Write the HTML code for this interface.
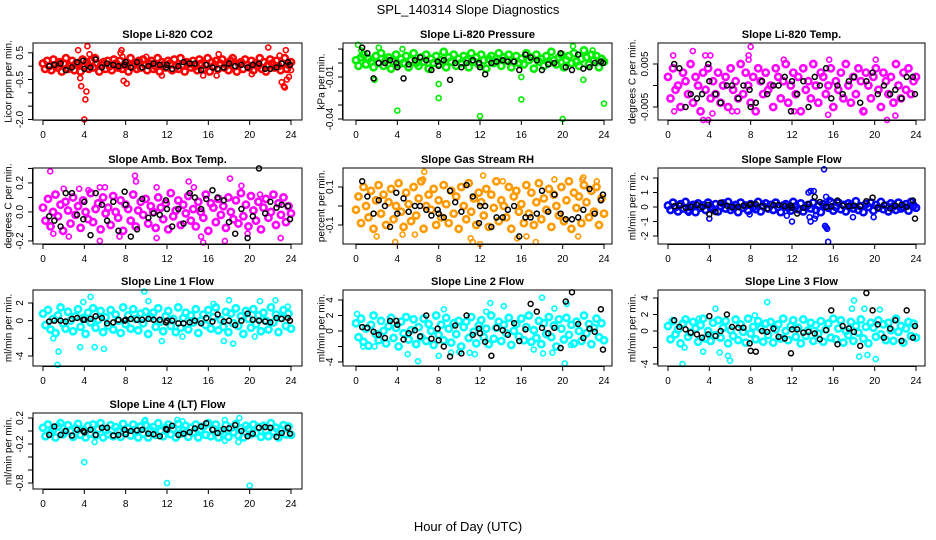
<!DOCTYPE html>
<html><head><meta charset="utf-8"><style>
html,body{margin:0;padding:0;background:#fff;}
svg{display:block;font-family:"Liberation Sans",Arial,sans-serif;}
</style></head><body>
<svg id="chart" width="936" height="540" viewBox="0 0 936 540">
<text x="468" y="14" text-anchor="middle" font-size="13">SPL_140314  Slope Diagnostics</text>
<text x="468" y="531" text-anchor="middle" font-size="13">Hour of Day (UTC)</text>
</svg>
<script>
const xTicks = [0,4,8,12,16,20,24];
const blackHours = [0.6,1.1,1.7,2.2,2.8,3.3,3.9,4.0,4.6,5.1,5.7,6.2,6.8,7.3,7.9,8.0,8.5,9.1,9.6,10.2,10.7,11.3,11.9,12.0,12.5,13.1,13.6,14.2,14.7,15.3,15.8,16.4,16.9,17.5,18.0,18.6,19.2,19.8,20.3,20.9,21.5,22.0,22.6,23.1,23.7,23.9];

const p1Band = [0.1,-0.1,0.2,0.0,-0.15,0.25,0.05,-0.05,0.15,-0.2,0.1,0.3,-0.1,0.0,0.2,-0.15,0.1,0.05,-0.2,0.25,0.0,0.15,-0.1,0.2,-0.05,0.3,0.1,-0.2,0.05,0.15,-0.1,0.2,0.0,-0.15,0.25,0.1,-0.05,0.2,-0.1,0.05,0.15,-0.2,0.3,0.0,0.1,-0.1,0.2,-0.05,0.25,0.05,-0.15,0.1,0.2,-0.1,0.0,0.3,-0.2,0.15,0.05,-0.05,0.2,0.1,-0.15,0.25,0.0,-0.1,0.3,0.05,-0.2,0.15,0.1,-0.05,0.2,0.0,-0.15,0.25,0.1,-0.1,0.05,0.3,-0.2,0.15,0.0,0.2,-0.1,0.1,0.25,-0.05,0.05,-0.15,0.2,0.3,0.0,-0.2,0.1,0.15,-0.1,0.25,0.05,-0.05,0.2,-0.15,0.1,0.0,0.3,-0.1,0.15,-0.2,0.05,0.25,0.1,-0.05,0.2,0.0,-0.15,0.1,0.3,-0.1,0.05,0.15];
const p1ExtraHours = [3.4,3.6,3.7,4.0,4.1,4.2,4.3,4.5,7.5,7.6,7.8,8.1,7.7,10,11.5,15.5,16.8,17,20.2,21.8,22.9,23.1,23.3,23.4,23.5,23.6,23.8,24];
const p1ExtraVals = [0.6,-0.45,-0.75,-2.0,-1.25,-0.95,0.75,0.45,0.5,0.6,-0.55,-0.65,0.35,0.35,-0.35,-0.35,-0.35,0.45,-0.3,0.7,0.4,-0.6,-0.75,-0.8,0.6,-0.5,-0.4,-0.15];
const p1Black = [0.0,0.05,0.1,-0.15,-0.05,0.15,0.2,-0.1,-0.05,0.25,-0.05,0.1,0.05,0.0,0.05,0.15,-0.05,0.15,-0.05,0.0,0.1,0.05,-0.05,0.05,-0.1,0.0,0.15,0.1,0.1,-0.15,0.05,-0.05,-0.1,-0.05,0.1,0.0,0.05,-0.05,0.05,0.1,-0.1,-0.1,-0.05,0.1,0.15,0.05];

const p2Band = [0.002,-0.002,0.004,0.006,-0.001,0.003,0.001,-0.003,0.005,0.0,0.007,-0.002,0.002,0.004,-0.004,0.001,0.006,-0.001,0.003,0.0,0.005,-0.003,0.002,0.007,0.0,-0.002,0.004,0.001,0.006,-0.004,0.003,0.0,0.005,-0.001,0.002,0.008,-0.003,0.004,0.001,0.006,-0.002,0.003,0.0,0.005,0.002,-0.003,0.007,0.001,0.004,-0.001,0.006,0.002,-0.004,0.003,0.005,0.0,0.001,0.007,-0.002,0.004,0.002,0.006,-0.003,0.001,0.005,0.0,0.003,-0.001,0.007,0.002,0.004,-0.004,0.006,0.001,0.003,-0.002,0.005,0.0,0.008,0.002,-0.001,0.004,0.006,-0.003,0.002,0.005,0.0,0.007,0.001,-0.002,0.003,0.009,0.004,-0.001,0.006,0.002,0.005,-0.003,0.003,0.001];
const p2ExtraHours = [0.2,0.5,2.2,1.8,4,4.5,8,8.0,12,16,16,20,21,22,24,22.9];
const p2ExtraVals = [0.013,0.009,0.011,-0.012,-0.034,0.01,-0.015,-0.025,-0.038,-0.026,-0.01,-0.040,0.012,-0.012,-0.029,0.009];
const p2Black = [0.011,0.007,-0.011,0.0,0.0,0.002,0.0,-0.003,-0.011,-0.001,0.002,0.004,0.002,-0.005,0.001,-0.002,0.002,-0.012,0.0,-0.003,0.0,0.002,0.0,-0.003,-0.008,0.0,0.001,0.002,0.001,0.001,-0.005,0.006,0.004,0.002,-0.005,-0.001,0.0,0.007,-0.003,-0.005,0.006,-0.004,-0.003,0.0,0.001,0.0];

const p3Band = [0.002,-0.003,0.004,-0.001,0.0,-0.005,0.003,0.001,-0.002,0.005,-0.004,0.002,0.0,-0.006,0.003,-0.001,0.004,-0.003,0.001,-0.002,0.003,-0.004,0.0,0.002,-0.005,0.004,-0.001,0.001,-0.003,0.005,-0.002,0.003,0.0,-0.004,0.002,-0.006,0.004,0.001,-0.002,0.003,-0.001,0.0,-0.005,0.004,0.002,-0.003,0.001,0.005,-0.004,0.0,0.003,-0.002,0.002,-0.006,0.004,-0.001,0.001,-0.003,0.005,0.0,-0.004,0.003,0.002,-0.002,0.0,0.004,-0.005,0.001,-0.001,0.003,-0.003,0.005,0.0,-0.004,0.002,-0.002,0.004,0.001,-0.006,0.003,0.0,-0.003,0.002,0.004,-0.001,-0.005,0.003,0.001,-0.002,0.002,-0.004,0.005,0.0,-0.003,0.003,-0.001,0.004,-0.002,0.001,0.002];
const p3ExtraHours = [0.5,2.4,3.6,4.1,3.4,3.9,4.3,7.8,7.8,8.0,11.2,15.6,20.1,21.2,0.6,6.7,12.2,19.0,22,15.5,6.2];
const p3ExtraVals = [0.007,0.008,0.007,0.007,-0.008,-0.008,-0.0065,0.006,0.007,0.009,0.006,0.006,0.006,-0.008,-0.006,-0.006,-0.006,-0.006,-0.007,-0.0068,-0.006];
const p3Black = [0.005,0.004,-0.005,-0.002,-0.003,-0.002,0.005,0.001,-0.002,-0.004,0.0,0.0,-0.003,0.0,-0.001,-0.005,-0.004,0.001,-0.002,0.0,0.0,0.002,-0.006,0.001,-0.002,0.001,-0.005,0.002,0.0,0.004,-0.003,0.0,-0.002,0.001,0.002,-0.004,0.001,0.003,-0.002,0.0,-0.002,-0.001,-0.003,0.002,0.002,-0.002];

const p4Band = [0.03,-0.06,0.09,-0.1,0.0,0.12,-0.03,0.05,-0.13,0.07,0.01,-0.08,0.1,-0.02,0.04,-0.11,0.08,0.0,-0.05,0.13,-0.07,0.02,0.06,-0.12,0.1,-0.01,0.03,-0.09,0.11,0.0,-0.04,0.08,-0.13,0.05,0.02,-0.06,0.12,-0.1,0.01,0.07,-0.02,0.09,-0.08,0.04,0.0,-0.11,0.1,0.03,-0.05,0.06,-0.12,0.13,-0.03,0.01,0.08,-0.09,0.05,-0.01,0.11,-0.06,0.02,-0.1,0.07,0.0,-0.04,0.12,-0.13,0.06,0.03,-0.07,0.09,-0.02,0.04,-0.11,0.1,0.0,-0.05,0.08,-0.08,0.13,-0.03,0.05,-0.1,0.11,0.01,-0.06,0.07,-0.12,0.03,0.09,-0.04,0.0,0.12,-0.09,0.06,-0.02,0.1,-0.07,0.04,-0.01];
const p4ExtraHours = [0.7,1.0,2.0,2.5,3.5,4.4,5.5,5.5,6.0,7.4,8.9,9.0,11.0,11.0,14.1,14.6,15.3,15.5,17.6,18.1,19.2,19.8,23.0,21];
const p4ExtraVals = [0.28,-0.15,0.16,-0.17,0.16,0.15,0.17,-0.2,0.17,-0.17,0.25,0.21,-0.18,0.17,0.21,0.17,-0.17,-0.21,-0.2,0.23,0.18,-0.15,-0.18,0.12];
const p4Black = [-0.03,-0.06,-0.1,0.13,0.13,-0.02,-0.05,0.07,-0.16,0.13,0.05,-0.06,0.07,-0.13,0.14,0.05,-0.17,-0.12,0.09,-0.04,-0.01,-0.02,0.08,0.02,-0.1,0.02,-0.08,0.13,0.1,0.02,0.09,0.15,0.1,0.08,-0.07,-0.15,0.02,-0.18,-0.03,0.3,-0.01,0.07,0.03,0.05,0.04,-0.05];

const p5Band = [-0.02,0.05,-0.09,0.1,0.0,-0.06,0.08,-0.12,0.03,0.11,-0.04,0.06,-0.1,0.02,0.09,-0.07,0.0,0.12,-0.03,-0.11,0.07,0.01,-0.08,0.1,-0.05,0.04,0.13,-0.12,0.0,0.06,-0.02,0.09,-0.1,0.03,-0.06,0.11,0.01,-0.09,0.08,-0.04,0.05,-0.12,0.1,0.0,-0.07,0.12,-0.03,0.04,-0.1,0.07,0.02,-0.05,0.09,-0.11,0.06,-0.01,0.13,-0.08,0.03,0.0,-0.06,0.1,-0.12,0.05,0.08,-0.03,0.01,-0.09,0.11,-0.04,0.07,-0.1,0.02,0.12,-0.07,0.04,-0.02,0.09,-0.11,0.06,0.0,-0.05,0.1,-0.08,0.03,0.13,-0.12,0.07,-0.01,0.05,-0.09,0.11,0.02,-0.06,0.08,-0.03,0.1,-0.1,0.04,-0.04];
const p5ExtraHours = [2.0,3.8,4.5,6.5,6.6,11.1,11.3,12.3,14.2,15.6,16.5,17.4,19.2,21.5,22.0,21.9,23.3,12.0,5.7];
const p5ExtraVals = [-0.16,-0.19,-0.15,0.14,0.18,-0.17,-0.19,0.16,0.13,-0.17,-0.16,-0.19,0.14,-0.16,0.15,0.14,0.13,-0.2,-0.15];
const p5Black = [0.13,0.05,-0.04,0.03,0.0,-0.11,0.07,-0.04,0.04,-0.03,0.0,0.0,-0.02,-0.05,-0.02,-0.04,-0.06,0.08,0.02,-0.03,0.11,0.05,-0.09,0.0,0.0,-0.11,-0.06,-0.06,-0.02,0.0,-0.16,-0.06,-0.06,-0.04,0.08,-0.03,0.06,-0.04,-0.07,-0.07,-0.06,-0.02,0.09,-0.04,0.03,0.06];

const p6Band = [0.1,-0.2,0.3,0.0,-0.3,0.2,-0.1,0.35,-0.25,0.05,0.15,-0.35,0.25,-0.05,0.1,-0.2,0.3,0.0,-0.15,0.2,-0.3,0.05,0.25,-0.1,0.35,-0.2,0.0,0.15,-0.35,0.3,-0.05,0.1,-0.25,0.2,0.0,-0.15,0.35,-0.3,0.05,0.25,-0.1,0.15,-0.2,0.3,0.0,-0.35,0.1,0.2,-0.05,-0.25,0.35,0.05,-0.15,0.25,-0.3,0.0,0.15,-0.1,0.3,-0.2,0.1,-0.35,0.2,0.05,-0.05,0.35,-0.25,0.0,0.3,-0.15,0.15,-0.3,0.25,0.1,-0.1,0.4,-0.2,0.05,-0.35,0.2,0.0,0.3,-0.25,0.15,-0.05,0.35,-0.15,0.1,-0.3,0.25,0.05,-0.2,0.3,-0.1,0.0,0.2,-0.25,0.35,0.1,-0.05];
const p6ExtraHours = [13.6,13.8,14.1,13.7,13.8,14.2,14.3,15.1,15.2,15.3,15.4,15.5,15.3,15.6,4.0,11.5,12.0,19.9,17.9,2.0,7.9];
const p6ExtraVals = [1.0,1.1,1.1,-0.7,-1.0,-0.8,-0.6,2.6,-1.3,-1.4,-1.5,-2.4,0.7,0.5,-0.8,-0.6,-1.0,-0.7,-0.7,-0.4,-0.5];
const p6Black = [0.05,0.1,-0.05,0.0,0.15,0.0,0.15,-0.5,-0.35,0.3,0.1,0.0,0.0,0.1,0.15,0.2,0.2,0.05,-0.1,0.15,0.15,0.05,0.1,-0.05,-0.45,-0.05,0.2,0.7,0.35,0.0,0.05,0.45,0.1,0.05,0.1,0.05,0.4,0.65,-0.05,0.15,-0.1,0.1,0.15,0.0,0.45,-0.8];

const p7Band = [0.8,-0.5,1.2,-1.0,0.2,-1.4,0.6,1.5,-0.3,-0.9,1.0,0.0,-1.2,0.5,1.3,-0.7,0.3,-1.5,0.9,-0.2,1.4,-0.8,0.1,1.1,-1.3,0.4,-0.6,1.2,-1.0,0.7,0.0,-1.4,1.5,-0.4,0.6,-0.9,1.3,0.2,-1.1,0.8,-0.3,1.0,-1.5,0.4,0.9,-0.7,1.4,-0.1,-1.2,0.5,1.1,-0.6,0.2,-1.3,1.5,-0.8,0.3,0.9,-1.0,0.6,-0.2,1.3,-1.4,0.0,0.7,-0.5,1.2,-0.9,0.4,1.5,-1.1,0.1,-0.7,1.0,-1.3,0.8,-0.3,1.4,-0.6,0.5,-1.5,1.1,0.2,-0.8,1.3,-0.4,0.6,-1.2,0.9,0.0,-1.0,1.5,-0.2,0.7,-1.3,0.3,1.2,-0.6,0.8,-0.9];
const p7ExtraHours = [1.4,1.5,1.0,3.6,4.6,5.0,5.9,9.8,10.2,11.5,16.5,17.5,18.0,18.4,20.5,21,22.5,23.7,3.9,13.5];
const p7ExtraVals = [-5,-3.5,-2,-3,2.7,-3,-3.2,3.3,2.2,-2.3,1.9,-2.3,2.3,-2.6,-1.8,2.2,2.3,1.6,2.1,-1.8];
const p7Black = [-0.1,0.0,0.0,-0.1,0.2,0.3,0.1,0.1,0.2,0.5,0.3,-0.3,-0.2,0.1,0.0,0.1,0.2,0.1,0.1,0.2,0.1,0.1,-0.2,0.0,0.0,-0.3,-0.3,-0.2,0.0,-0.3,0.3,-0.1,0.7,-0.1,0.0,-0.5,0.0,0.8,0.1,0.0,-0.1,-0.2,0.3,0.2,0.3,0.0];

const p8Band = [1.0,-0.8,1.6,-1.4,0.3,-1.9,0.8,2.0,-0.4,-1.2,1.3,0.0,-1.6,0.6,1.7,-0.9,0.4,-2.0,1.2,-0.3,1.8,-1.1,0.1,1.5,-1.7,0.5,-0.8,1.6,-1.3,0.9,0.0,-1.8,2.0,-0.5,0.8,-1.2,1.7,0.3,-1.5,1.0,-0.4,1.3,-2.0,0.5,1.2,-0.9,1.8,-0.1,-1.6,0.7,1.4,-0.8,0.3,-1.7,2.0,-1.0,0.4,1.2,-1.3,0.8,-0.3,1.7,-1.8,0.0,0.9,-0.7,1.6,-1.2,0.5,2.0,-1.4,0.1,-0.9,1.3,-1.7,1.0,-0.4,1.8,-0.8,0.7,-2.0,1.5,0.3,-1.1,1.7,-0.5,0.8,-1.6,1.2,0.0,-1.3,2.0,-0.3,0.9,-1.7,0.4,1.6,-0.8,1.0,-1.2];
const p8ExtraHours = [0.1,0.7,1.8,5.0,6.0,8.0,9.2,10,11,11.5,13.0,14.3,17.2,18.0,18.1,19.0,19.2,20.2,20.4,20.8,12.6,8.5];
const p8ExtraVals = [2.2,-2,-2,-3,-3.9,-3.2,-2.8,-2.7,-2.8,-3,3.6,3.2,-2.4,4.3,-2.9,-2.8,2.9,-4.2,3.5,-1.8,2.5,2.8];
const p8Black = [0.5,0.4,-0.1,-0.5,-0.9,1.3,1.3,0.8,-1.1,-0.3,0.1,-0.7,2.0,-1.0,0.3,-1.2,-2.0,-3.3,0.7,-2.9,2.0,-0.5,0.3,-0.3,-1.4,-3.2,0.4,0.1,-0.5,1.0,-1.3,0.2,3.5,2.5,0.4,-0.3,0.4,-2.2,3.8,5.0,0.9,-0.9,0.3,-0.1,2.8,-2.4];

const p9Band = [0.6,-1.0,1.2,-0.4,0.2,-1.5,0.9,1.4,-0.7,-0.2,1.1,0.3,-1.3,0.7,1.5,-0.9,0.0,-1.2,1.0,-0.5,1.3,-0.8,0.4,1.2,-1.5,0.1,-0.6,1.4,-1.1,0.8,-0.1,-1.4,1.5,-0.3,0.5,-1.0,1.2,0.3,-1.3,0.9,-0.5,1.1,-1.4,0.2,0.8,-0.9,1.5,0.0,-1.1,0.6,1.3,-0.7,0.4,-1.5,1.4,-0.6,0.1,1.0,-1.2,0.7,-0.3,1.2,-1.3,0.2,0.9,-0.8,1.5,-1.0,0.3,1.3,-1.4,0.0,-0.5,1.1,-1.2,0.6,-0.2,1.4,-0.9,0.5,-1.5,1.0,0.4,-0.7,1.3,-0.4,0.8,-1.1,1.0,0.1,-1.2,1.5,-0.1,0.6,-1.4,0.3,1.1,-0.6,0.9,-0.8];
const p9ExtraHours = [1.4,1.6,3.4,4.6,5.0,5.8,6.0,9.6,18.0,18.5,19.3,20.1,20.5,3.0,8.4,17.8,19.0];
const p9ExtraVals = [-4,-2,-2.5,2.7,-2.6,-3,-3.6,3.5,3.7,-3.1,-2.9,-3.4,2.6,1.5,1.9,2.7,2.7];
const p9Black = [1.3,0.5,0.2,-0.2,-0.4,-0.8,-0.4,1.8,-0.6,0.0,2.0,0.5,0.4,0.4,-1.5,-2.4,-2.5,0.0,-0.1,0.3,-0.7,-0.9,-2.7,0.2,0.2,-0.2,-0.1,-0.3,-1.0,0.1,2.5,-1.6,0.6,0.3,-0.1,-1.8,4.6,2.5,0.8,-0.8,0.3,1.3,-1.2,2.5,-0.8,0.6];

const p10Band = [0.05,-0.08,0.1,-0.03,0.02,-0.1,0.07,0.12,-0.05,-0.01,0.09,0.0,-0.09,0.04,0.11,-0.06,0.02,-0.1,0.08,-0.04,0.1,-0.07,0.03,0.12,-0.1,0.01,-0.05,0.09,-0.08,0.06,0.0,-0.09,0.11,-0.02,0.04,-0.07,0.1,0.02,-0.1,0.07,-0.04,0.09,-0.1,0.01,0.06,-0.06,0.12,0.0,-0.08,0.05,0.1,-0.05,0.03,-0.1,0.11,-0.04,0.01,0.08,-0.09,0.05,-0.02,0.1,-0.1,0.02,0.07,-0.06,0.12,-0.08,0.03,0.1,-0.1,0.0,-0.04,0.09,-0.09,0.05,-0.02,0.11,-0.07,0.04,-0.1,0.08,0.03,-0.05,0.1,-0.03,0.06,-0.09,0.08,0.01,-0.08,0.12,-0.01,0.05,-0.1,0.02,0.09,-0.05,0.07,-0.06];
const p10ExtraHours = [4.0,12.0,20.0,5.0,13.0,13.5,17.6,17.6,19.0,18.9,9.8,9.9];
const p10ExtraVals = [-0.48,-0.8,-0.84,-0.17,0.17,0.15,0.17,-0.15,0.2,-0.17,0.15,0.17];
const p10Black = [-0.06,0.07,-0.06,0.0,-0.07,0.02,0.0,-0.02,0.02,-0.06,0.05,0.05,-0.07,-0.06,0.02,-0.05,0.0,0.01,0.02,-0.04,-0.05,-0.08,0.03,0.02,0.08,-0.06,-0.04,-0.02,0.04,0.07,0.12,0.02,-0.03,0.03,0.04,0.09,0.0,-0.08,-0.04,0.05,0.06,0.05,-0.09,-0.03,0.05,-0.04];

const p1Ticks=[0.5,0,-0.5,-1,-1.5,-2], p1Labels=["0.5","","-0.5","","","-2.0"];
const p2Ticks=[0.01,0,-0.01,-0.02,-0.03,-0.04], p2Labels=["","","-0.01","","","-0.04"];
const p3Ticks=[0.005,0,-0.005], p3Labels=["0.005","","-0.005"];
const p4Ticks=[0.3,0.2,0.1,0,-0.1,-0.2], p4Labels=["","0.2","","0.0","","-0.2"];
const p5Ticks=[0.1,0,-0.1], p5Labels=["0.1","","-0.1"];
const p6Ticks=[2,1,0,-1,-2], p6Labels=["2","1","0","-1","-2"];
const p7Ticks=[2,0,-2,-4], p7Labels=["2","0","","-4"];
const p8Ticks=[4,2,0,-2,-4], p8Labels=["4","2","0","","-4"];
const p9Ticks=[4,2,0,-2,-4], p9Labels=["4","2","0","","-4"];
const p10Ticks=[0.2,0,-0.2,-0.4,-0.6,-0.8], p10Labels=["0.2","","-0.2","","","-0.8"];

const NS="http://www.w3.org/2000/svg";
const svg=document.getElementById('chart');
const cols=[{l:33,r:302,x0:43,x1:291,yt:9},{l:343,r:612,x0:356,x1:604,yt:322},{l:658,r:925,x0:668,x1:916,yt:633}];
const rows=[{t:43,b:120},{t:168,b:244},{t:290,b:366},{t:413,b:489}];
const panels=[
 {name:"co2",title:"Slope Li-820 CO2",yt:"Licor ppm per min.",c:0,r:0,vmin:-2.02,vmax:0.87,col:"#ff0000",band:p1Band,eh:p1ExtraHours,ev:p1ExtraVals,blk:p1Black,ticks:p1Ticks,labels:p1Labels},
 {name:"pressure",title:"Slope Li-820 Pressure",yt:"kPa per min.",c:1,r:0,vmin:-0.0407,vmax:0.0143,col:"#00ee00",band:p2Band,eh:p2ExtraHours,ev:p2ExtraVals,blk:p2Black,ticks:p2Ticks,labels:p2Labels},
 {name:"temp",title:"Slope Li-820 Temp.",yt:"degrees C per min.",c:2,r:0,vmin:-0.00802,vmax:0.00988,col:"#ff00ff",band:p3Band,eh:p3ExtraHours,ev:p3ExtraVals,blk:p3Black,ticks:p3Ticks,labels:p3Labels},
 {name:"amb-box-temp",title:"Slope Amb. Box Temp.",yt:"degrees C per min.",c:0,r:1,vmin:-0.221,vmax:0.303,col:"#ff00ff",band:p4Band,eh:p4ExtraHours,ev:p4ExtraVals,blk:p4Black,ticks:p4Ticks,labels:p4Labels},
 {name:"gas-stream-rh",title:"Slope Gas Stream RH",yt:"percent per min.",c:1,r:1,vmin:-0.2,vmax:0.2,col:"#ff9900",band:p5Band,eh:p5ExtraHours,ev:p5ExtraVals,blk:p5Black,ticks:p5Ticks,labels:p5Labels},
 {name:"sample-flow",title:"Slope Sample Flow",yt:"ml/min per min.",c:2,r:1,vmin:-2.55,vmax:2.69,col:"#0000ff",band:p6Band,eh:p6ExtraHours,ev:p6ExtraVals,blk:p6Black,ticks:p6Ticks,labels:p6Labels},
 {name:"line1-flow",title:"Slope Line 1 Flow",yt:"ml/min per min.",c:0,r:2,vmin:-5.13,vmax:3.47,col:"#00ffff",band:p7Band,eh:p7ExtraHours,ev:p7ExtraVals,blk:p7Black,ticks:p7Ticks,labels:p7Labels},
 {name:"line2-flow",title:"Slope Line 2 Flow",yt:"ml/min per min.",c:1,r:2,vmin:-4.52,vmax:5.29,col:"#00ffff",band:p8Band,eh:p8ExtraHours,ev:p8ExtraVals,blk:p8Black,ticks:p8Ticks,labels:p8Labels},
 {name:"line3-flow",title:"Slope Line 3 Flow",yt:"ml/min per min.",c:2,r:2,vmin:-4.24,vmax:4.97,col:"#00ffff",band:p9Band,eh:p9ExtraHours,ev:p9ExtraVals,blk:p9Black,ticks:p9Ticks,labels:p9Labels},
 {name:"line4-flow",title:"Slope Line 4 (LT) Flow",yt:"ml/min per min.",c:0,r:3,vmin:-0.892,vmax:0.277,col:"#00ffff",band:p10Band,eh:p10ExtraHours,ev:p10ExtraVals,blk:p10Black,ticks:p10Ticks,labels:p10Labels}
];
function mk(tag,attrs,parent){const e=document.createElementNS(NS,tag);for(const k in attrs)e.setAttribute(k,attrs[k]);parent.appendChild(e);return e;}
panels.forEach(p=>{
 const C=cols[p.c],R=rows[p.r];
 const g=mk('g',{},svg);
 
 
 const xs=h=>C.x0+(C.x1-C.x0)*h/24;
 const ys=v=>R.b-(R.b-R.t)*(v-p.vmin)/(p.vmax-p.vmin);
 const t=mk('text',{x:(C.l+C.r)/2,y:R.t-5,'text-anchor':'middle','font-size':11,'font-weight':'bold'},g);
 t.textContent=p.title;
 
 
 const yt=mk('text',{x:C.yt,y:(R.t+R.b)/2,'text-anchor':'middle','font-size':10,transform:`rotate(-90 ${C.yt} ${(R.t+R.b)/2})`,'dominant-baseline':'central'},g);
 yt.textContent=p.yt;
 
 
 const pts=mk('g',{fill:'none'},g);
 
 
 const n=p.band.length;
 p.band.forEach((v,i)=>{const c=mk('circle',{cx:xs(i*24/(n-1)),cy:ys(v),r:3.1,stroke:p.col,'stroke-width':2.6},pts);
  
  });
 p.eh.forEach((h,i)=>{const c=mk('circle',{cx:xs(h),cy:ys(p.ev[i]),r:2.5,stroke:p.col,'stroke-width':1.6},pts);
  
  });
 p.blk.forEach((v,i)=>{if(i>=blackHours.length)return;const c=mk('circle',{cx:xs(blackHours[i]),cy:ys(v),r:2.5,stroke:'#000','stroke-width':1.5},pts);
  
  });
 const box=mk('rect',{x:C.l,y:R.t,width:C.r-C.l,height:R.b-R.t,fill:'none',stroke:'#000','stroke-width':1},g);
 
 
 mk('line',{x1:C.x0,x2:C.x1,y1:R.b+0.5,y2:R.b+0.5,stroke:'#000'},g);
 xTicks.forEach(h=>{mk('line',{x1:xs(h),x2:xs(h),y1:R.b,y2:R.b+5,stroke:'#000'},g);
  const l=mk('text',{x:xs(h),y:R.b+18,'text-anchor':'middle','font-size':10},g);l.textContent=h;
  
  });
 const tv=p.ticks;
 mk('line',{x1:C.l-0.5,x2:C.l-0.5,y1:ys(tv[0]),y2:ys(tv[tv.length-1]),stroke:'#000'},g);
 tv.forEach((v,i)=>{const y=ys(v);mk('line',{x1:C.l-5,x2:C.l,y1:y,y2:y,stroke:'#000'},g);
  if(p.labels[i]){const lx=C.l-10;const l=mk('text',{x:lx,y:y,'text-anchor':'middle','font-size':10,transform:`rotate(-90 ${lx} ${y})`},g);l.textContent=p.labels[i];
  
  }});
});
</script>
</body></html>
